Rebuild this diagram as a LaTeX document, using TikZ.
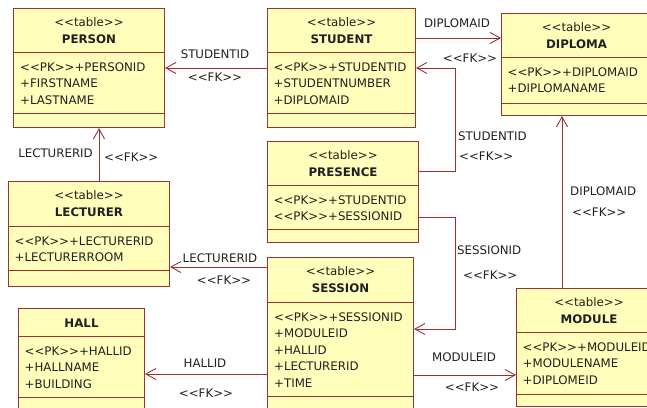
\documentclass[tikz,border=0pt]{standalone}
\usepackage{fontspec}
\newfontfamily\tblfont{DejaVu Sans}
\usepackage{tikz}
\usetikzlibrary{arrows.meta,calc}
\definecolor{TblLine}{HTML}{993333}
\definecolor{TblFill}{HTML}{FFFFBB}
\definecolor{TblText}{HTML}{202020}
\newcommand{\stereo}[1]{<{}<#1>{}>}
\tikzset{
  >={Straight Barb[length=10pt,width=11pt]},
  every node/.style = {font=\tblfont\fontsize{11.8}{14}\selectfont, text=TblText},
  table box/.style = {
    draw=TblLine,
    fill=TblFill,
    line width=1pt,
    anchor=north west,
    inner sep=0pt
  },
  table rule/.style = {draw=TblLine, line width=1pt},
  stereo line/.style = {anchor=base, inner sep=0pt},
  table name/.style = {anchor=base, inner sep=0pt, font=\tblfont\bfseries\fontsize{11.8}{14}\selectfont},
  field/.style = {anchor=base west, inner sep=0pt},
  fk link/.style = {->, draw=TblLine, line width=0.9pt},
  fk label/.style = {anchor=base, inner sep=0pt},
}

\begin{document}
\begin{tikzpicture}[x=1pt,y=-1pt]
  \useasboundingbox (0,0) rectangle (647,407);
  \clip (0,0) rectangle (647,407);

  % tables
  \node[table box, minimum width=151pt, minimum height=119pt] (person) at (13,8) {};
  \node[table box, minimum width=148pt, minimum height=119pt] (student) at (267,8) {};
  \node[table box, minimum width=150pt, minimum height=102pt] (diploma) at (501,13) {};
  \node[table box, minimum width=161pt, minimum height=105pt] (lecturer) at (8,181) {};
  \node[table box, minimum width=151pt, minimum height=101pt] (presence) at (267,141) {};
  \node[table box, minimum width=146pt, minimum height=160pt] (session) at (267,257) {};
  \node[table box, minimum width=145pt, minimum height=118pt] (module) at (516,288) {};
  \node[table box, minimum width=126pt, minimum height=110pt] (hall) at (18,308) {};

  % compartment rules
  \foreach \t/\a/\b in {person/52/113, student/52/113, diploma/57/103, lecturer/226/270,
                        presence/185/229, session/302/396, module/332/394, hall/336/397} {
    \draw[table rule] (\t.west |- 0,\a) -- (\t.east |- 0,\a);
    \draw[table rule] (\t.west |- 0,\b) -- (\t.east |- 0,\b);
  }

  % headers
  \foreach \t/\n in {person/PERSON, student/STUDENT, diploma/DIPLOMA, lecturer/LECTURER,
                     presence/PRESENCE, session/SESSION, module/MODULE} {
    \node[stereo line] (\t-st) at ([yshift=-18.5pt]\t.north) {\stereo{table}};
    \node[table name] (\t-nm) at ([yshift=-35pt]\t.north) {\n};
  }
  \node[table name] (hall-nm) at ([yshift=-19pt]hall.north) {HALL};

  % fields
  \foreach \f [count=\i] in {\stereo{PK}+PERSONID, +FIRSTNAME, +LASTNAME}
    \node[field] (person-f\i) at ([xshift=7pt,yshift={-63pt-(\i-1)*16.5pt}]person.north west) {\f};
  \foreach \f [count=\i] in {\stereo{PK}+STUDENTID, +STUDENTNUMBER, +DIPLOMAID}
    \node[field] (student-f\i) at ([xshift=6.5pt,yshift={-63pt-(\i-1)*16.5pt}]student.north west) {\f};
  \foreach \f [count=\i] in {\stereo{PK}+DIPLOMAID, +DIPLOMANAME}
    \node[field] (diploma-f\i) at ([xshift=6.5pt,yshift={-63pt-(\i-1)*16.5pt}]diploma.north west) {\f};
  \foreach \f [count=\i] in {\stereo{PK}+LECTURERID, +LECTURERROOM}
    \node[field] (lecturer-f\i) at ([xshift=6.5pt,yshift={-64pt-(\i-1)*16.5pt}]lecturer.north west) {\f};
  \foreach \f [count=\i] in {\stereo{PK}+STUDENTID, \stereo{PK}+SESSIONID}
    \node[field] (presence-f\i) at ([xshift=6.5pt,yshift={-63pt-(\i-1)*16.5pt}]presence.north west) {\f};
  \foreach \f [count=\i] in {\stereo{PK}+SESSIONID, +MODULEID, +HALLID, +LECTURERID, +TIME}
    \node[field] (session-f\i) at ([xshift=7pt,yshift={-64pt-(\i-1)*16.5pt}]session.north west) {\f};
  \foreach \f [count=\i] in {\stereo{PK}+MODULEID, +MODULENAME, +DIPLOMEID}
    \node[field] (module-f\i) at ([xshift=6.5pt,yshift={-63pt-(\i-1)*16.5pt}]module.north west) {\f};
  \foreach \f [count=\i] in {\stereo{PK}+HALLID, +HALLNAME, +BUILDING}
    \node[field] (hall-f\i) at ([xshift=6.5pt,yshift={-47pt-(\i-1)*16.5pt}]hall.north west) {\f};

  % foreign keys
  \draw[fk link] (student.west |- 0,68) -- (person.east |- 0,68);
  \draw[fk link] (student.east |- 0,38) -- (diploma.west |- 0,38);
  \draw[fk link] (presence.east |- 0,171) -- ++(36,0) |- (student.east |- 0,68);
  \draw[fk link] (presence.east |- 0,217) -- ++(36,0) |- (session.east |- 0,329);
  \draw[fk link] (session.east |- 0,375) -- (module.west |- 0,375);
  \draw[fk link] (module.north -| 562,0) -- (diploma.south -| 562,0);
  \draw[fk link] (lecturer.north -| 99,0) -- (person.south -| 99,0);
  \draw[fk link] (session.west |- 0,267) -- (lecturer.east |- 0,267);
  \draw[fk link] (session.west |- 0,374) -- (hall.east |- 0,374);

  % link labels
  \node[fk label] (stu-per-id) at (215,58) {STUDENTID};
  \node[fk label] (stu-per-fk) at (215,81) {\stereo{FK}};
  \node[fk label] (stu-dip-id) at (457,27) {DIPLOMAID};
  \node[fk label] (stu-dip-fk) at (470,62) {\stereo{FK}};
  \node[fk label, anchor=base west] (pre-stu-id) at (458,140) {STUDENTID};
  \node[fk label, anchor=base west] (pre-stu-fk) at (459,160) {\stereo{FK}};
  \node[fk label, anchor=base west] (pre-ses-id) at (457,254) {SESSIONID};
  \node[fk label, anchor=base west] (pre-ses-fk) at (463,279) {\stereo{FK}};
  \node[fk label] (ses-mod-id) at (464,361) {MODULEID};
  \node[fk label] (ses-mod-fk) at (472,391) {\stereo{FK}};
  \node[fk label, anchor=base west] (mod-dip-id) at (570,195) {DIPLOMAID};
  \node[fk label, anchor=base west] (mod-dip-fk) at (572,216) {\stereo{FK}};
  \node[fk label, anchor=base east] (lec-per-id) at (93,157) {LECTURERID};
  \node[fk label, anchor=base west] (lec-per-fk) at (104,161) {\stereo{FK}};
  \node[fk label] (ses-lec-id) at (220,262) {LECTURERID};
  \node[fk label] (ses-lec-fk) at (224,284) {\stereo{FK}};
  \node[fk label] (ses-hal-id) at (205,367) {HALLID};
  \node[fk label] (ses-hal-fk) at (206,397) {\stereo{FK}};
\end{tikzpicture}
\end{document}
